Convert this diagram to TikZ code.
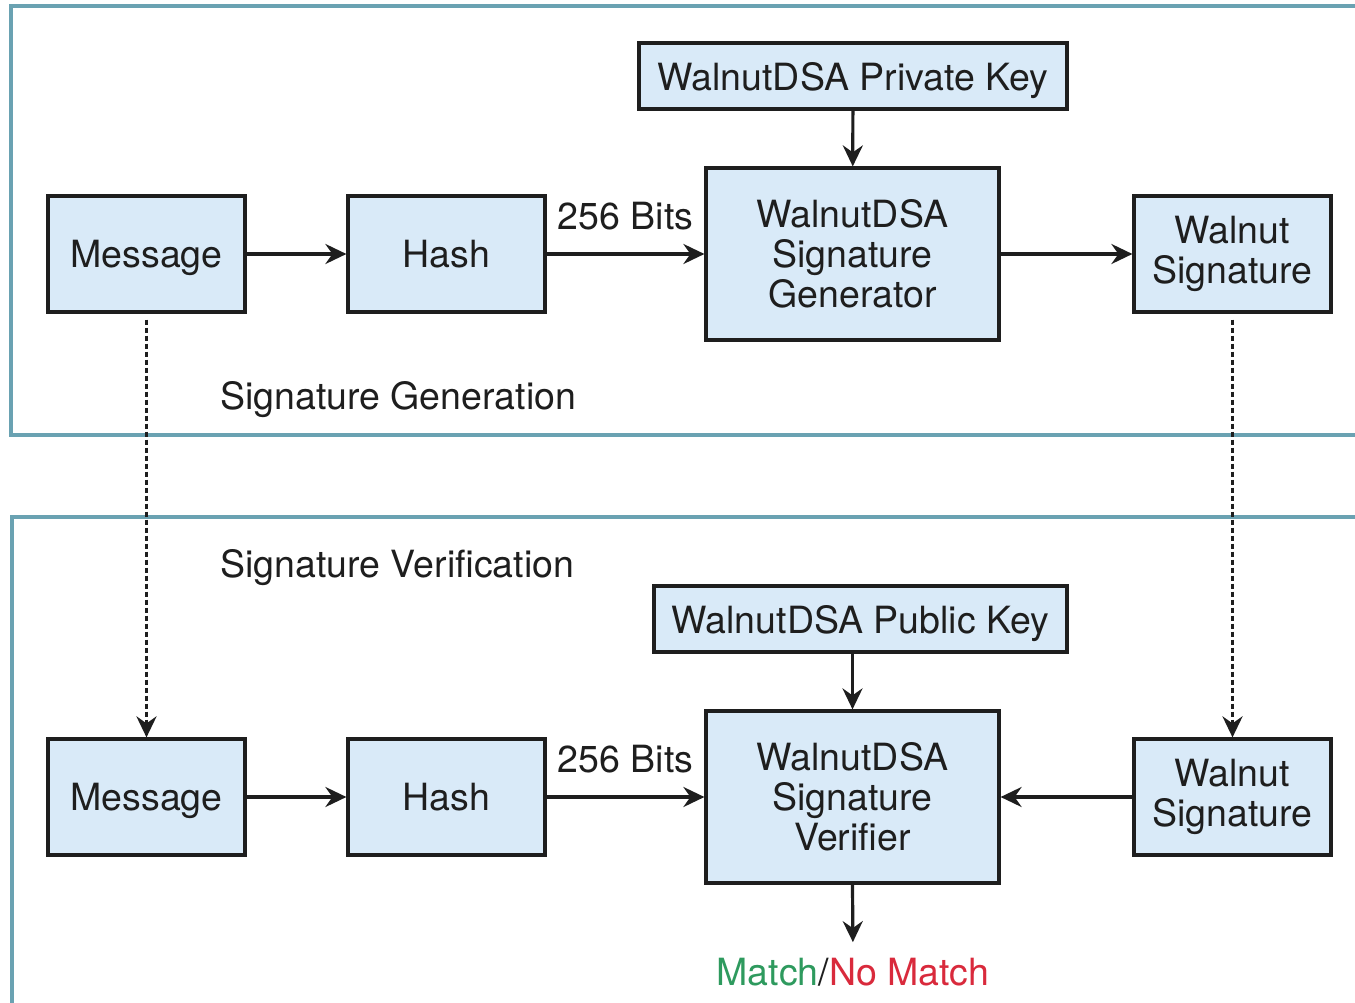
\documentclass[tikz,border=0pt]{standalone}
\usepackage{fontspec}
\setmainfont{TeX Gyre Heros}
\usetikzlibrary{arrows.meta}
\definecolor{framecol}{HTML}{6AA2B2}
\definecolor{boxfill}{HTML}{D9EAF8}
\definecolor{inkcol}{HTML}{1E1E1E}
\definecolor{matchgreen}{HTML}{2E9A5E}
\definecolor{nomatchred}{HTML}{D92A3C}
\tikzset{
  blk/.style={draw=inkcol, line width=3.2pt, fill=boxfill, text=inkcol,
    align=center, inner sep=0pt, font=\fontsize{37.5}{40}\selectfont},
  oneline/.style={text depth=0pt},
  smallblk/.style={blk, minimum width=197pt, minimum height=116pt},
  bigblk/.style={blk, minimum width=293pt, minimum height=172pt},
  keyblk/.style={blk, oneline, minimum height=66pt},
  flow/.style={draw=inkcol, line width=3.2pt, -{Stealth[length=21pt,width=20pt,inset=7pt]}},
  carry/.style={flow, line width=3.6pt, dash pattern=on 5pt off 3pt},
  frameline/.style={draw=framecol, line width=3.2pt},
  caption/.style={text=inkcol, inner sep=0pt, oneline, font=\fontsize{37.5}{40}\selectfont},
  bits/.style={caption, anchor=south, yshift=23pt}
}
\begin{document}
\begin{tikzpicture}[x=1pt, y=-1pt]
\useasboundingbox (0,0) rectangle (1355,1003);
\fill[white] (0,0) rectangle (1355,1003);

% section frames, open to the right
\draw[frameline] (1370,6) -- (11,6) -- (11,435) -- (1370,435);
\draw[frameline] (1370,517) -- (12,517) -- (12,1015);

% signature generation
\node[smallblk, oneline] (msgA) at (146.5,254) {Message};
\node[smallblk, oneline] (hashA) at (446.5,254) {Hash};
\node[bigblk] (gen) at (852.5,254) {WalnutDSA\\Signature\\Generator};
\node[keyblk, minimum width=428pt] (priv) at (853,76) {WalnutDSA Private Key};
\node[smallblk] (sigA) at (1232.5,254) {Walnut\\Signature};
\node[caption, anchor=west] (genlbl) at (220,395) {Signature Generation};

\draw[flow] (msgA) -- (hashA);
\draw[flow] (hashA) -- node[bits] (bitsA) {256 Bits} (gen);
\draw[flow] (priv) -- (gen);
\draw[flow] (gen) -- (sigA);

% signature verification
\node[smallblk, oneline] (msgB) at (146.5,797) {Message};
\node[smallblk, oneline] (hashB) at (446.5,797) {Hash};
\node[bigblk] (ver) at (852.5,797) {WalnutDSA\\Signature\\Verifier};
\node[keyblk, minimum width=413pt] (pub) at (860.5,619) {WalnutDSA Public Key};
\node[smallblk] (sigB) at (1232.5,797) {Walnut\\Signature};
\node[caption, anchor=west] (verlbl) at (220,563) {Signature Verification};
\node[caption] (result) at (853,972)
  {\textcolor{matchgreen}{Match}/\textcolor{nomatchred}{No Match}};

\draw[flow] (msgB) -- (hashB);
\draw[flow] (hashB) -- node[bits] (bitsB) {256 Bits} (ver);
\draw[flow] (pub.south -| ver.north) -- (ver.north);
\draw[flow] (sigB) -- (ver);
\draw[flow, shorten >=16pt] (ver.south) -- (result.north);

% carried values between the two stages
\draw[carry, shorten <=6pt] (msgA.south) -- (msgB.north);
\draw[carry, shorten <=6pt] (sigA.south) -- (sigB.north);
\end{tikzpicture}
\end{document}
